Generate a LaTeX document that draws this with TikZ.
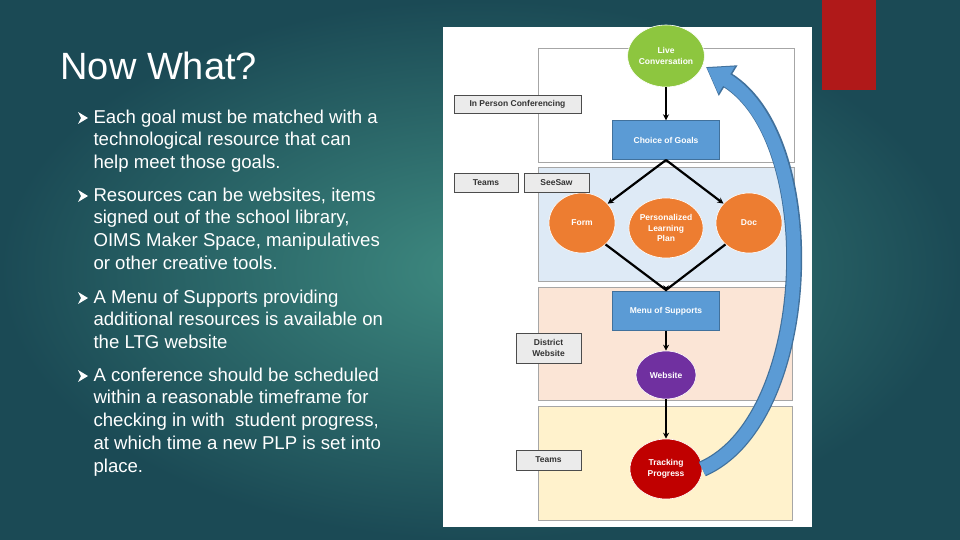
\documentclass[tikz,border=0pt]{standalone}
\usepackage{fontspec}
\setmainfont{Liberation Sans}
\usetikzlibrary{arrows.meta,shapes.geometric}
\definecolor{bgin}{HTML}{3E8A80}
\definecolor{bgout}{HTML}{1B4A55}
\definecolor{gblue}{HTML}{5B9BD5}
\definecolor{gblued}{HTML}{41719C}
\definecolor{ggreen}{HTML}{8DC63F}
\definecolor{gorange}{HTML}{ED7D31}
\definecolor{gpurple}{HTML}{7030A0}
\definecolor{gred}{HTML}{C00000}
\definecolor{band2}{HTML}{DEEAF6}
\definecolor{band3}{HTML}{FBE5D6}
\definecolor{band4}{HTML}{FFF2CC}
\definecolor{accent}{HTML}{B01919}
\begin{document}
\begin{tikzpicture}[x=1pt,y=-1pt,
  band/.style={draw=gray!70,line width=0.8},
  bubble/.style={ellipse,draw=white,line width=0.6,text=white,font=\fontsize{8.5}{10.5}\selectfont\bfseries,align=center,inner sep=0},
  boxy/.style={draw=gblued,fill=gblue,text=white,font=\fontsize{8.5}{10}\selectfont\bfseries,minimum width=107,minimum height=39,inner sep=0},
  lbl/.style={draw=black!70,fill=black!8,font=\fontsize{8.5}{11}\selectfont\bfseries,text=black!80,align=center,inner sep=0},
  flow/.style={line width=2.2,-{Stealth[length=6,width=6]}},
  bul/.style={fill=white},
  body/.style={anchor=north west,text=white,align=left,font=\fontsize{18.6}{22.8}\selectfont}]
\useasboundingbox (0,0) rectangle (960,540);
\shade[inner color=bgin,outer color=bgout] (0,0) rectangle (960,540);
\fill[accent] (822,0) rectangle (876,90);
\node[anchor=base west,text=white,font=\fontsize{38}{40}\selectfont] (title) at (57,80) {Now What?};
% bullets
\foreach \yy in {118,196,298,376}{\fill[bul] (78,\yy-6) -- (88,\yy) -- (78,\yy+6) -- (81,\yy) -- cycle;}
\node[body] (b1) at (90,106) {Each goal must be matched with a\\technological resource that can\\help meet those goals.};
\node[body] (b2) at (90,184) {Resources can be websites, items\\signed out of the school library,\\OIMS Maker Space, manipulatives\\or other creative tools.};
\node[body] (b3) at (90,286) {A Menu of Supports providing\\additional resources is available on\\the LTG website};
\node[body] (b4) at (90,364) {A conference should be scheduled\\within a reasonable timeframe for\\checking in with\ \ student progress,\\at which time a new PLP is set into\\place.};
% panel
\fill[white] (443,27) rectangle (812,527);
\draw[band,fill=white] (538,48) rectangle (794,162);
\draw[band,fill=band2] (538,167) rectangle (794,281);
\draw[band,fill=band3] (538,287) rectangle (792,400);
\draw[band,fill=band4] (538,406) rectangle (792,520);
% nodes
\node[bubble,fill=ggreen,minimum width=68,minimum height=62] (live) at (666,56) {Live\\Conversation};
\node[boxy] (goals) at (666,140) {Choice of Goals};
\node[bubble,fill=gorange,minimum width=66,minimum height=60] (form) at (582,223) {Form};
\node[bubble,fill=gorange,minimum width=66,minimum height=60] (plp) at (666,228) {Personalized\\Learning\\Plan};
\node[bubble,fill=gorange,minimum width=66,minimum height=60] (doc) at (749,223) {Doc};
\node[boxy] (menu) at (666,311) {Menu of Supports};
\node[bubble,fill=gpurple,minimum width=60,minimum height=48] (web) at (666,375) {Website};
\node[bubble,fill=gred,minimum width=72,minimum height=60] (track) at (666,469) {Tracking\\Progress};
\coordinate (split) at (666,160);
\coordinate (join) at (666,290);
% labels
\node[lbl,minimum width=127,minimum height=18] (ipc) at (517.5,104) {In Person Conferencing};
\node[lbl,minimum width=64,minimum height=19] (teams1) at (486,182.5) {Teams};
\node[lbl,minimum width=65,minimum height=19] (seesaw) at (556.5,182.5) {SeeSaw};
\node[lbl,minimum width=65,minimum height=30] (dist) at (548.5,348) {District\\Website};
\node[lbl,minimum width=65,minimum height=20] (teams2) at (548.5,460) {Teams};
% connectors
\draw[flow] (live) -- (goals);
\draw[flow] (split) -- (form);
\draw[flow] (split) -- (doc);
\draw[line width=2.2] (form.south east) -- (join) -- (doc.south west);
\draw[flow] (join) -- (menu.north);
\draw[flow] (menu) -- (web);
\draw[flow] (web) -- (track);
% big return arrow
\draw[gblued,line width=16,-{Triangle[width=34,length=26]}] (track.east) .. controls (815,420) and (825,140) .. (706,67);
\draw[gblue,line width=13.5,-{Triangle[width=30,length=23]}] (track.east) .. controls (815,420) and (825,140) .. (707,68);
\end{tikzpicture}
\end{document}
